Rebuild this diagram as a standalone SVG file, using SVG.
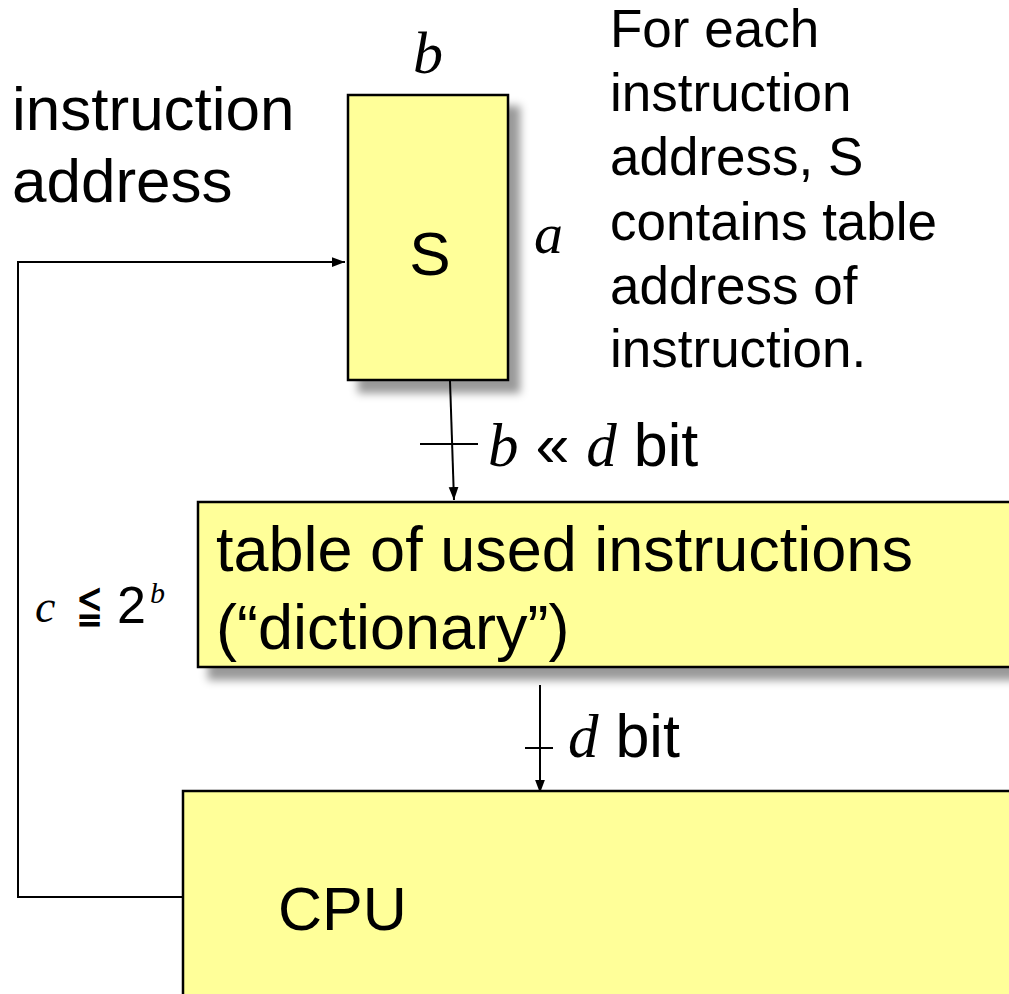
<svg xmlns="http://www.w3.org/2000/svg" width="1009" height="994" viewBox="0 0 1009 994">
  <defs>
    <filter id="shadow" x="-20%" y="-20%" width="150%" height="150%">
      <feGaussianBlur in="SourceAlpha" stdDeviation="4"/>
      <feOffset dx="11" dy="12" result="b"/>
      <feFlood flood-color="#000" flood-opacity="0.4"/>
      <feComposite in2="b" operator="in"/>
      <feMerge><feMergeNode/><feMergeNode in="SourceGraphic"/></feMerge>
    </filter>
    <marker id="arrow" viewBox="0 0 12 12" refX="12" refY="6" markerWidth="13" markerHeight="13" markerUnits="userSpaceOnUse" orient="auto">
      <path d="M0,1.5 L12,6 L0,10.5 Z" fill="#000"/>
    </marker>
    <style>
      .box { fill: #ffff99; stroke: #000; stroke-width: 2.5; }
      .line { fill: none; stroke: #000; stroke-width: 2; }
      .sans { font-family: "Liberation Sans", Arial, sans-serif; fill: #000; }
      .ital { font-family: "Liberation Serif", "Times New Roman", serif; font-style: italic; fill: #000; }
    </style>
  </defs>
  <rect width="1009" height="994" fill="#fff"/>

  <g id="connectors">
    <path class="line" d="M183,897 H18 V262 H345" marker-end="url(#arrow)"/>
    <path class="line" d="M450,381 L454,500" marker-end="url(#arrow)"/>
    <line class="line" x1="420" y1="444" x2="478" y2="444"/>
    <path class="line" d="M540,685 V793" marker-end="url(#arrow)"/>
    <line class="line" x1="525" y1="748" x2="553" y2="748"/>
  </g>

  <g id="node-s">
    <rect class="box" x="348" y="95" width="160" height="285" filter="url(#shadow)"/>
    <text class="sans" x="430" y="275" font-size="62" text-anchor="middle">S</text>
  </g>

  <g id="node-table">
    <rect class="box" x="198" y="502" width="830" height="165" filter="url(#shadow)"/>
    <text class="sans" x="216" y="571" font-size="63">table of used instructions</text>
    <text class="sans" x="216" y="649" font-size="63">(“dictionary”)</text>
  </g>

  <g id="node-cpu">
    <rect class="box" x="183" y="791" width="840" height="220"/>
    <text class="sans" x="278" y="930" font-size="61">CPU</text>
  </g>

  <g id="labels">
    <text class="ital" x="428" y="73" font-size="60" text-anchor="middle">b</text>
    <text class="ital" x="534" y="253" font-size="58">a</text>
    <text class="sans" x="12" y="130" font-size="62">instruction</text>
    <text class="sans" x="12" y="202" font-size="62">address</text>
    <text class="sans" font-size="53">
      <tspan x="610" y="47">For each</tspan>
      <tspan x="610" y="111">instruction</tspan>
      <tspan x="610" y="175">address, S</tspan>
      <tspan x="610" y="240">contains table</tspan>
      <tspan x="610" y="304">address of</tspan>
      <tspan x="610" y="367">instruction.</tspan>
    </text>
    <text x="488" y="466" font-size="61"><tspan class="ital">b</tspan><tspan class="sans"> « </tspan><tspan class="ital">d</tspan><tspan class="sans"> bit</tspan></text>
    <text x="568" y="757" font-size="61"><tspan class="ital">d</tspan><tspan class="sans"> bit</tspan></text>
    <text class="ital" x="35" y="622" font-size="46">c</text>
    <text class="sans" transform="translate(90,622) scale(0.6,1)" font-size="54" text-anchor="middle">≦</text>
    <text class="sans" x="117" y="623" font-size="52">2</text>
    <text class="ital" x="150" y="603" font-size="30">b</text>
  </g>
</svg>
